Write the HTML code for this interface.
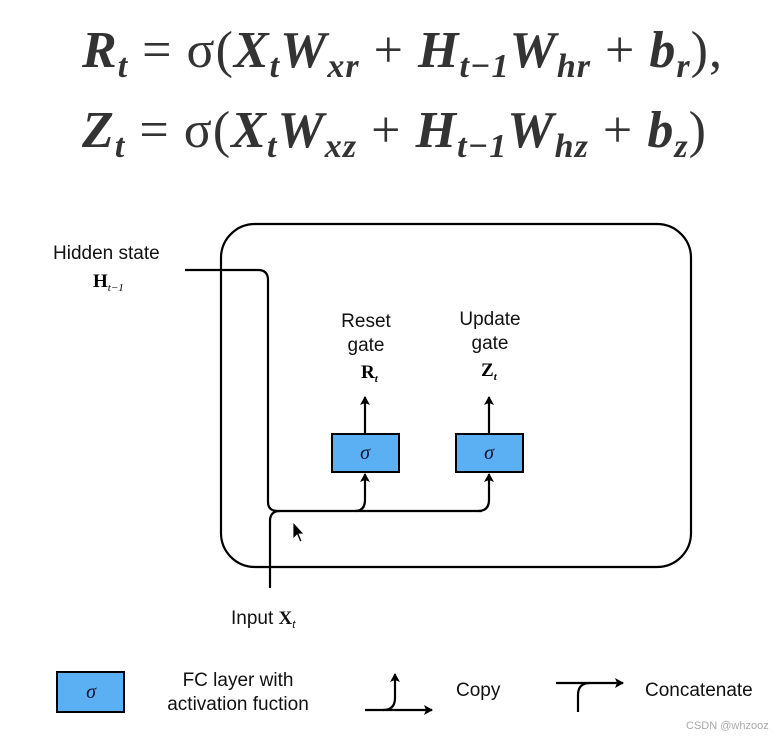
<!DOCTYPE html>
<html><head><style>
body{margin:0;background:#fff;width:782px;height:740px;overflow:hidden}
svg{position:absolute;left:0;top:0}
.f{font-family:"Liberation Serif",serif;font-weight:bold;font-style:italic;fill:#333}
.s{font-family:"Liberation Sans",sans-serif;fill:#111}
</style></head><body>
<svg width="782" height="740" viewBox="0 0 782 740">
<defs><marker id="a" markerWidth="10" markerHeight="10" refX="8" refY="5" orient="auto" markerUnits="userSpaceOnUse"><path d="M0,0 L9,5 L0,10 L2,5 z" fill="#000"/></marker></defs>
<text class="f" x="82" y="67" font-size="52" textLength="640" lengthAdjust="spacing">R<tspan font-size="34" dy="10">t</tspan><tspan dy="-10" font-style="normal" font-weight="normal"> = σ(</tspan>X<tspan font-size="34" dy="10">t</tspan><tspan dy="-10">W</tspan><tspan font-size="34" dy="10">xr</tspan><tspan dy="-10" font-style="normal" font-weight="normal"> + </tspan>H<tspan font-size="34" dy="10">t−1</tspan><tspan dy="-10">W</tspan><tspan font-size="34" dy="10">hr</tspan><tspan dy="-10" font-style="normal" font-weight="normal"> + </tspan>b<tspan font-size="34" dy="10">r</tspan><tspan dy="-10" font-style="normal" font-weight="normal">),</tspan></text>
<text class="f" x="82" y="147" font-size="52" textLength="624" lengthAdjust="spacing">Z<tspan font-size="34" dy="10">t</tspan><tspan dy="-10" font-style="normal" font-weight="normal"> = σ(</tspan>X<tspan font-size="34" dy="10">t</tspan><tspan dy="-10">W</tspan><tspan font-size="34" dy="10">xz</tspan><tspan dy="-10" font-style="normal" font-weight="normal"> + </tspan>H<tspan font-size="34" dy="10">t−1</tspan><tspan dy="-10">W</tspan><tspan font-size="34" dy="10">hz</tspan><tspan dy="-10" font-style="normal" font-weight="normal"> + </tspan>b<tspan font-size="34" dy="10">z</tspan><tspan dy="-10" font-style="normal" font-weight="normal">)</tspan></text>

<rect x="221" y="224" width="470" height="343" rx="34" fill="none" stroke="#000" stroke-width="2.2"/>
<path d="M185 270 H258 Q268 270 268 280 V502 Q268 511 278 511 H482" fill="none" stroke="#000" stroke-width="2.2"/>
<path d="M270 588 V521 Q270 511 280 511" fill="none" stroke="#000" stroke-width="2.2"/>
<path d="M355 511 Q365 511 365 500 V474" fill="none" stroke="#000" stroke-width="2.2" marker-end="url(#a)"/>
<path d="M478 511 Q489 511 489 500 V474" fill="none" stroke="#000" stroke-width="2.2" marker-end="url(#a)"/>
<rect x="332" y="434" width="67" height="38" fill="#5ab0f2" stroke="#000" stroke-width="2"/>
<rect x="456" y="434" width="67" height="38" fill="#5ab0f2" stroke="#000" stroke-width="2"/>
<text x="365" y="459" font-size="20" text-anchor="middle" font-family="Liberation Serif,serif" font-style="italic" fill="#113">σ</text>
<text x="489" y="459" font-size="20" text-anchor="middle" font-family="Liberation Serif,serif" font-style="italic" fill="#113">σ</text>
<path d="M365 433 V397" stroke="#000" stroke-width="2.2" marker-end="url(#a)"/>
<path d="M489 433 V397" stroke="#000" stroke-width="2.2" marker-end="url(#a)"/>
<text class="s" x="366" y="327" font-size="19" text-anchor="middle">Reset</text>
<text class="s" x="366" y="351" font-size="19" text-anchor="middle">gate</text>
<text x="361" y="378" font-size="19" font-weight="bold" font-family="Liberation Serif,serif">R<tspan font-size="11" font-style="italic" dy="4">t</tspan></text>
<text class="s" x="490" y="325" font-size="19" text-anchor="middle">Update</text>
<text class="s" x="490" y="349" font-size="19" text-anchor="middle">gate</text>
<text x="481" y="376" font-size="19" font-weight="bold" font-family="Liberation Serif,serif">Z<tspan font-size="11" font-style="italic" dy="4">t</tspan></text>
<text class="s" x="53" y="259" font-size="19">Hidden state</text>
<text x="93" y="287" font-size="19" font-weight="bold" font-family="Liberation Serif,serif">H<tspan font-size="11" font-style="italic" font-weight="normal" dy="4">t−1</tspan></text>
<text class="s" x="231" y="624" font-size="19">Input <tspan font-family="Liberation Serif,serif" font-weight="bold">X</tspan><tspan font-size="11" font-style="italic" dy="4">t</tspan></text>
<path d="M293 522 L293 539 L297 535 L300 542 L302 541 L299 534 L304 534 Z" fill="#000" stroke="#fff" stroke-width="0.8"/>

<rect x="57" y="672" width="67" height="40" fill="#5ab0f2" stroke="#000" stroke-width="2"/>
<text x="91" y="698" font-size="20" text-anchor="middle" font-family="Liberation Serif,serif" font-style="italic" fill="#113">σ</text>
<text class="s" x="238" y="686" font-size="19" text-anchor="middle">FC layer with</text>
<text class="s" x="238" y="710" font-size="19" text-anchor="middle">activation fuction</text>
<path d="M365 710 H432" stroke="#000" stroke-width="2.2" marker-end="url(#a)"/>
<path d="M383 710 Q395 710 395 698 V674" fill="none" stroke="#000" stroke-width="2.2" marker-end="url(#a)"/>
<text class="s" x="456" y="696" font-size="19">Copy</text>
<path d="M556 683 H623" stroke="#000" stroke-width="2.2" marker-end="url(#a)"/>
<path d="M578 712 V695 Q578 683 590 683" fill="none" stroke="#000" stroke-width="2.2"/>
<text class="s" x="645" y="696" font-size="19">Concatenate</text>
<text x="686" y="729" font-size="11" font-family="Liberation Sans,sans-serif" fill="#aaa">CSDN @whzooz</text>
</svg>
</body></html>
